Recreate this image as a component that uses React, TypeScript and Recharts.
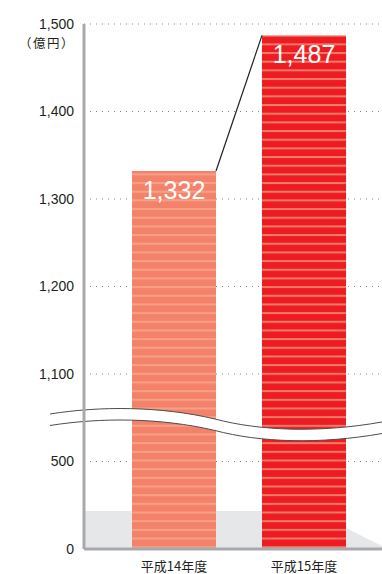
import { BarChart, Bar, XAxis, YAxis, CartesianGrid, LabelList, ReferenceArea, ReferenceLine } from 'recharts'

// 売上高（億円）
const years = ['平成14年度', '平成15年度']
const sales = [1332, 1487]
const yTickValues = [0, 500, 1100, 1200, 1300, 1400, 1500]
const unitLabel = '（億円）'

const barColors = ['#F4826A', '#ED1C24']
const stripeColors = ['#F7A088', '#F47B63']

// 500〜1,100 を省略した軸: 0〜500 が1目盛、1,100 以降は100ごとに1目盛
const toAxis = (v: number) =>
  v <= 500 ? v / 500 : v < 1100 ? 1 + (v - 500) / 600 : 2 + (v - 1100) / 100

const data = years.map((year, i) => ({ year, value: sales[i], pos: toAxis(sales[i]) }))
const axisTicks = yTickValues.map(toAxis)

const xPad = { left: 25, right: 13 }

const labelFont = '"Liberation Sans", Arial, sans-serif'
const jpFont = '"Noto Sans CJK JP", "Liberation Sans", sans-serif'

// 前のバーの右上を覚えておき、次のバーの左上と線で結ぶ
const barTops: { x: number; y: number }[] = []

function StripedBar(props: any) {
  const { x, y, width, height, index } = props
  barTops[index] = { x: x + width, y }
  const prev = index > 0 ? barTops[index - 1] : null
  return (
    <g>
      <rect x={x} y={y} width={width} height={height} fill={`url(#stripe-${index})`} />
      {prev && <line x1={prev.x} y1={prev.y} x2={x} y2={y} stroke="#231f20" strokeWidth={1.2} />}
    </g>
  )
}

function ValueLabel(props: any) {
  const { x, y, width, value } = props
  return (
    <text x={x + width / 2} y={y + 28} textAnchor="middle" fill="#fff" fontSize={25} fontFamily={labelFont}>
      {Number(value).toLocaleString('en-US')}
    </text>
  )
}

function YTick(props: any) {
  const { x, y, payload, index } = props
  const label = yTickValues[index]
  return (
    <g>
      <text x={x} y={y} dy="0.35em" textAnchor="end" fill="#231f20" fontSize={14} fontFamily={labelFont}>
        {label.toLocaleString('en-US')}
      </text>
      {payload.value === axisTicks[axisTicks.length - 1] && (
        <text x={x + 1} y={y + 20} dy="0.35em" textAnchor="end" fill="#231f20" fontSize={12.5} letterSpacing={1.5} fontFamily={jpFont}>
          {unitLabel}
        </text>
      )}
    </g>
  )
}

function XTick(props: any) {
  const { x, y, payload } = props
  return (
    <text x={x} y={y + 22} textAnchor="middle" fill="#231f20" fontSize={13} fontFamily={jpFont}>
      {payload.value}
    </text>
  )
}

// 床の影（右端で斜めに落ちる）。x軸の余白分も含めて描く
function Floor(props: any) {
  const { x, y, width, height } = props
  const left = x - xPad.left
  const right = x + width + xPad.right
  const pts = [
    [left, y],
    [right - 70, y],
    [right, y + height - 3],
    [right, y + height],
    [left, y + height],
  ]
  return <polygon points={pts.map(p => p.join(',')).join(' ')} fill="#E6E7E8" />
}

// 省略記号の波線
function AxisBreak(props: any) {
  const { x1, y1 } = props
  const p = (dx: number, dy: number) => `${x1 + dx},${y1 + dy}`
  const d = `M${p(-34, 2)} C${p(16, -6)} ${p(76, -6)} ${p(131, 7)} C${p(176, 19)} ${p(236, 21)} ${p(298, 10)}`
  return (
    <g>
      <path d={d} fill="none" stroke="#fff" strokeWidth={11.5} />
      <path d={d} fill="none" stroke="#4D4D4D" strokeWidth={1} transform="translate(0,-5.75)" />
      <path d={d} fill="none" stroke="#4D4D4D" strokeWidth={1} transform="translate(0,5.75)" />
    </g>
  )
}

export default function App() {
  return (
    <div style={{ position: 'absolute', left: 0, top: 0 }}>
      <BarChart width={382} height={574} data={data} margin={{ top: 24, right: 0, bottom: 0, left: 0 }}>
        <defs>
          {barColors.map((c, i) => (
            <pattern key={i} id={`stripe-${i}`} patternUnits="userSpaceOnUse" width={10} height={8.67}>
              <rect width={10} height={8.67} fill={c} />
              <rect width={10} height={2} fill={stripeColors[i]} />
            </pattern>
          ))}
        </defs>
        <ReferenceArea y1={0} y2={0.434} fill="#E6E7E8" shape={Floor} ifOverflow="visible" />
        <CartesianGrid vertical={false} stroke="#888" strokeDasharray="1 5" />
        <XAxis
          dataKey="year"
          height={25}
          padding={xPad}
          tickLine={false}
          tickSize={0}
          tickMargin={0}
          tick={<XTick />}
          axisLine={{ stroke: '#A7A9AC', strokeWidth: 3 }}
        />
        <YAxis
          width={84}
          type="number"
          domain={[0, 6]}
          ticks={axisTicks}
          interval={0}
          tickLine={false}
          tickSize={0}
          tickMargin={10}
          tick={<YTick />}
          axisLine={{ stroke: '#A7A9AC', strokeWidth: 3 }}
        />
        <Bar dataKey="pos" barSize={84} shape={<StripedBar />} isAnimationActive={false}>
          <LabelList dataKey="value" content={<ValueLabel />} />
        </Bar>
        <ReferenceLine y={1.5} shape={AxisBreak} ifOverflow="visible" />
      </BarChart>
    </div>
  )
}
